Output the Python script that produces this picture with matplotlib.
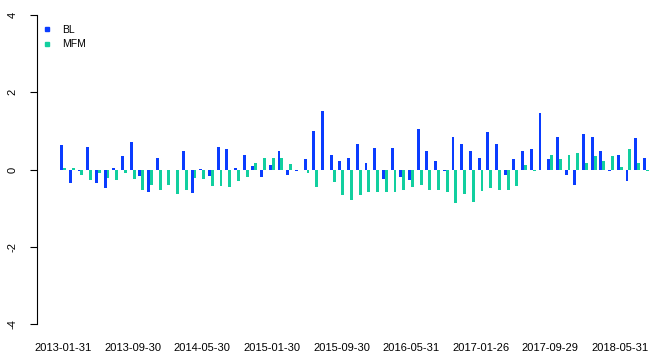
import numpy as np
import matplotlib
matplotlib.use("Agg")
import matplotlib.pyplot as plt

plt.rcParams['font.family'] = ['Liberation Sans', 'DejaVu Sans']

# monthly values, 2013-01 .. 2018-08
bl = [0.63, -0.34, -0.03, 0.58, -0.36, -0.49, 0.05, 0.35, 0.72, -0.18,
      -0.59, 0.29, 0.0, 0.0, 0.47, -0.62, 0.02, -0.16, 0.59, 0.52,
      0.03, 0.38, 0.08, -0.20, 0.12, 0.47, -0.13, -0.04, 0.28, 1.00,
      1.51, 0.38, 0.21, 0.31, 0.65, 0.18, 0.56, -0.25, 0.56, -0.20,
      -0.28, 1.06, 0.49, 0.21, -0.03, 0.83, 0.65, 0.49, 0.31, 0.97,
      0.67, -0.15, 0.28, 0.49, 0.54, 1.45, 0.26, 0.83, -0.15, -0.39,
      0.92, 0.83, 0.47, -0.04, 0.38, -0.29, 0.81, 0.31]
mfm = [0.05, 0.05, -0.15, -0.28, -0.10, -0.23, -0.28, -0.09, -0.25, -0.54,
       -0.41, -0.52, -0.39, -0.64, -0.52, -0.22, -0.25, -0.43, -0.42, -0.46,
       -0.31, -0.20, 0.16, 0.31, 0.31, 0.31, 0.15, -0.01, -0.09, -0.45,
       0.0, -0.33, -0.67, -0.78, -0.66, -0.57, -0.57, -0.59, -0.57, -0.53,
       -0.46, -0.39, -0.54, -0.53, -0.57, -0.87, -0.63, -0.84, -0.55, -0.47,
       -0.53, -0.53, -0.44, 0.12, -0.05, 0.0, 0.37, 0.28, 0.37, 0.44,
       0.18, 0.35, 0.21, 0.35, 0.06, 0.52, 0.18, -0.04]
tick_pos = [0, 8, 16, 24, 32, 40, 48, 56, 64]
tick_labels = ["2013-01-31", "2013-09-30", "2014-05-30", "2015-01-30",
               "2015-09-30", "2016-05-31", "2017-01-26", "2017-09-29",
               "2018-05-31"]

blue = "#0a3cff"
teal = "#12cf9f"

fig = plt.figure(figsize=(6.57, 3.57), dpi=100)
ax = fig.add_axes([37 / 657, 1 - 324 / 357, 620 / 657, 309 / 357])

# grouped bars: BL left of the month centre, MFM right of it
x = np.arange(len(bl))
w = 1 / 3
ax.bar(x - w, bl, width=w, align="edge", color=blue, linewidth=0)
ax.bar(x, mfm, width=w, align="edge", color=teal, linewidth=0)

ax.set_xlim(-2.99, 68.28)
ax.set_ylim(-4, 4)

for s in ["top", "right", "bottom"]:
    ax.spines[s].set_visible(False)
ax.spines["left"].set_linewidth(0.8)

ax.set_yticks([-4, -2, 0, 2, 4])
ax.set_yticklabels(["-4", "-2", "0", "2", "4"], rotation=90, va="center",
                   fontsize=8)
ax.tick_params(axis="y", length=5, width=0.8, pad=9)
ax.set_xticks(tick_pos)
ax.set_xticklabels(tick_labels, fontsize=8)
ax.tick_params(axis="x", length=0, pad=14)

ax.legend([plt.Line2D([], [], marker="s", color=blue, ls="", ms=3.5),
           plt.Line2D([], [], marker="s", color=teal, ls="", ms=3.5)],
          ["BL", "MFM"], loc="upper left", bbox_to_anchor=(-0.008, 0.998),
          frameon=False, fontsize=7.5, handlelength=1, handletextpad=1.0,
          labelspacing=0.4)

fig.savefig("out.png", dpi=100)
